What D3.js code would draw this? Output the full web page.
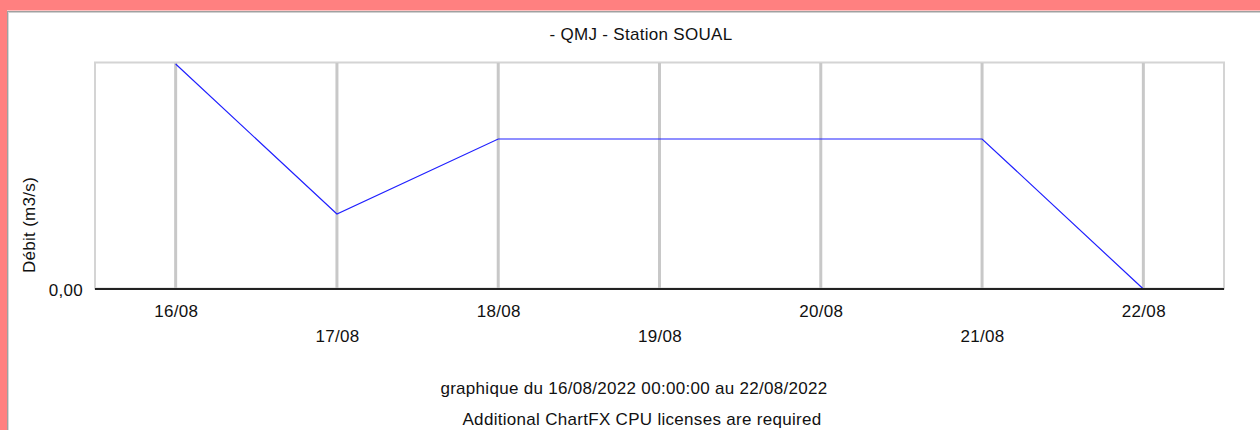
<!DOCTYPE html>
<html>
<head>
<meta charset="utf-8">
<script src="https://cdn.jsdelivr.net/npm/d3@7"></script>
<style>
  html, body { margin: 0; padding: 0; background: #ff8080; }
  svg { display: block; }
  text { font-family: "Liberation Sans", Arial, sans-serif; fill: #111; }
</style>
</head>
<body>
<svg id="chart" width="1260" height="430"></svg>
<script>
// ---- Data ----
const dates = ["2022-08-16", "2022-08-17", "2022-08-18", "2022-08-19", "2022-08-20", "2022-08-21", "2022-08-22"];
const debit = [0.003, 0.001, 0.002, 0.002, 0.002, 0.002, 0.0];
const yTicks = [0];
const title = "- QMJ - Station SOUAL";
const yLabel = "Débit (m3/s)";
const footer1 = "graphique du 16/08/2022 00:00:00 au 22/08/2022";
const footer2 = "Additional ChartFX CPU licenses are required";

(function () {
const parse = d3.utcParse("%Y-%m-%d");
const fmtTick = d3.utcFormat("%d/%m");
const data = dates.map((d, i) => ({ date: parse(d), value: debit[i] }));

const svg = d3.select("#chart");

// page frame
svg.append("rect").attr("x", 0).attr("y", 0).attr("width", 1260).attr("height", 430).attr("fill", "#ff8080");
svg.append("rect").attr("x", 7).attr("y", 10.5).attr("width", 1253).attr("height", 420).attr("fill", "#ffffff");
svg.append("line").attr("x1", 7).attr("x2", 1260).attr("y1", 11.5).attr("y2", 11.5).attr("stroke", "#a0a0a0").attr("stroke-width", 1);
svg.append("line").attr("x1", 7).attr("x2", 1260).attr("y1", 12.5).attr("y2", 12.5).attr("stroke", "#d0d0d0").attr("stroke-width", 1);
svg.append("line").attr("x1", 7.5).attr("x2", 7.5).attr("y1", 11).attr("y2", 430).attr("stroke", "#a0a0a0").attr("stroke-width", 1);
svg.append("line").attr("x1", 8.5).attr("x2", 8.5).attr("y1", 12).attr("y2", 430).attr("stroke", "#d8d8d8").attr("stroke-width", 1);

const mLeft = 95, mRight = 1224, mTop = 63, mBottom = 289;

const x = d3.scaleUtc()
  .domain([d3.utcHour.offset(data[0].date, -12), d3.utcHour.offset(data[data.length - 1].date, 12)])
  .range([mLeft, mRight]);
const y = d3.scaleLinear().domain([0, 0.003]).range([mBottom, mTop + 1]);

// plot frame
svg.append("rect")
  .attr("x", mLeft).attr("y", mTop - 0.5)
  .attr("width", mRight - mLeft).attr("height", mBottom - mTop)
  .attr("fill", "#ffffff").attr("stroke", "#d4d4d4").attr("stroke-width", 2);

// vertical gridlines
svg.append("g").selectAll("line").data(data).join("line")
  .attr("x1", d => x(d.date)).attr("x2", d => x(d.date))
  .attr("y1", mTop).attr("y2", mBottom)
  .attr("stroke", "#c8c8c8").attr("stroke-width", 3);

// data line
const line = d3.line().x(d => x(d.date)).y(d => y(d.value));
svg.append("path").datum(data)
  .attr("d", line)
  .attr("fill", "none")
  .attr("stroke", "#2020ff")
  .attr("stroke-width", 1.2);

// x axis (staggered labels)
const xAxis = d3.axisBottom(x).tickValues(data.map(d => d.date)).tickFormat(fmtTick).tickSize(0).tickPadding(0);
const gx = svg.append("g").attr("transform", `translate(0,${mBottom})`).call(xAxis);
gx.select(".domain").attr("stroke", "#222").attr("stroke-width", 2).attr("d", `M${mLeft},0H${mRight}`);
gx.selectAll(".tick text")
  .attr("y", (d, i) => i % 2 === 0 ? 28 : 53)
  .attr("dy", 0)
  .style("font-size", "17px").style("letter-spacing", "0.3px")
  .attr("fill", "#111");

// y axis
const yAxis = d3.axisLeft(y).tickValues(yTicks).tickFormat(d => d3.format(".2f")(d).replace(".", ",")).tickSize(0).tickPadding(12);
const gy = svg.append("g").attr("transform", `translate(${mLeft},0)`).call(yAxis);
gy.select(".domain").remove();
gy.selectAll(".tick text")
  .attr("dy", 0).attr("y", 6)
  .style("font-size", "17px").style("letter-spacing", "0.3px")
  .attr("fill", "#111");

// title
svg.append("text").attr("x", 641).attr("y", 40).attr("text-anchor", "middle")
  .style("font-size", "17px").style("letter-spacing", "0.3px").text(title);

// y label
svg.append("text").attr("transform", "translate(35,225) rotate(-90)").attr("text-anchor", "middle")
  .style("font-size", "17px").style("letter-spacing", "0.3px").text(yLabel);

// footers
svg.append("text").attr("x", 634).attr("y", 394).attr("text-anchor", "middle")
  .style("font-size", "17px").style("letter-spacing", "0.3px").text(footer1);
svg.append("text").attr("x", 642).attr("y", 425).attr("text-anchor", "middle")
  .style("font-size", "17px").style("letter-spacing", "0.3px").text(footer2);
})();
</script>
</body>
</html>
